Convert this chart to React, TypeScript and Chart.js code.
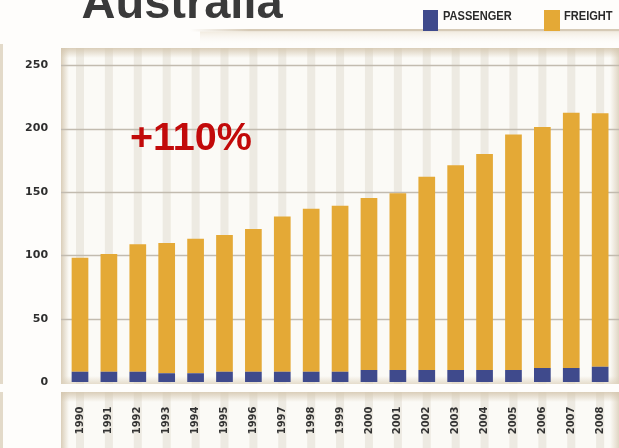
import React, { useEffect, useRef } from 'react';
import { Chart, registerables } from 'chart.js';

Chart.register(...registerables);

// ---- data ----
const years = ['1990', '1991', '1992', '1993', '1994', '1995', '1996', '1997', '1998', '1999', '2000', '2001', '2002', '2003', '2004', '2005', '2006', '2007', '2008'];
const passenger = [8, 8, 8, 7, 7, 8, 8, 8, 8, 8, 9.5, 9.5, 9.5, 9.5, 9.5, 9.5, 11, 11, 12];
const freight = [90, 93, 100.8, 102.6, 106, 108, 112.7, 122.7, 128.7, 131, 135.8, 139.5, 152.5, 161.5, 170.5, 185.8, 190.3, 201.4, 200];
const yTicks = [0, 50, 100, 150, 200, 250];
const titleText = 'Australia';
const annotationText = '+110%';
const legendLabels = ['PASSENGER', 'FREIGHT'];

const passengerColor = '#3f4a8c';
const freightColor = '#e4a936';
const seriesColors = [passengerColor, freightColor];

const W = 619;
const H = 448;

const panelPlugin = {
  id: 'panels',
  beforeDraw(chart: any) {
    const { ctx } = chart;
    const x = chart.scales.x;
    const y = chart.scales.y;
    ctx.save();
    // page background
    ctx.fillStyle = '#fefdfb';
    ctx.fillRect(0, 0, W, H);

    // header rule
    let g = ctx.createLinearGradient(190, 0, 250, 0);
    g.addColorStop(0, 'rgba(214,202,182,0)');
    g.addColorStop(1, 'rgba(214,202,182,1)');
    ctx.fillStyle = g;
    ctx.fillRect(190, 29, W - 190, 2.5);
    g = ctx.createLinearGradient(0, 31.5, 0, 45);
    g.addColorStop(0, 'rgba(240,233,220,0.9)');
    g.addColorStop(1, 'rgba(254,253,251,0)');
    ctx.fillStyle = g;
    ctx.fillRect(200, 31.5, W - 200, 14);

    // left edge strip of neighbouring panel
    ctx.fillStyle = '#e3dac9';
    ctx.fillRect(0, 44, 3, 340);
    ctx.fillRect(0, 392, 3, H - 392);

    const drawPanel = (px: number, py: number, pw: number, ph: number, bottomShade: boolean) => {
      ctx.fillStyle = '#fbfaf6';
      ctx.fillRect(px, py, pw, ph);
      // stripes
      ctx.fillStyle = 'rgba(226,221,210,0.55)';
      for (let i = 0; i < years.length; i++) {
        const cx = x.getPixelForValue(i);
        ctx.fillRect(cx - 4, py, 8, ph);
      }
      // top shade
      let gg = ctx.createLinearGradient(0, py, 0, py + 10);
      gg.addColorStop(0, 'rgba(212,198,174,0.85)');
      gg.addColorStop(1, 'rgba(212,198,174,0)');
      ctx.fillStyle = gg;
      ctx.fillRect(px, py, pw, 10);
      // left shade
      gg = ctx.createLinearGradient(px, 0, px + 8, 0);
      gg.addColorStop(0, 'rgba(212,198,174,0.85)');
      gg.addColorStop(1, 'rgba(212,198,174,0)');
      ctx.fillStyle = gg;
      ctx.fillRect(px, py, 8, ph);
      // right shade
      gg = ctx.createLinearGradient(px + pw - 9, 0, px + pw, 0);
      gg.addColorStop(0, 'rgba(212,198,174,0)');
      gg.addColorStop(1, 'rgba(212,198,174,0.7)');
      ctx.fillStyle = gg;
      ctx.fillRect(px + pw - 9, py, 9, ph);
      if (bottomShade) {
        gg = ctx.createLinearGradient(0, py + ph - 8, 0, py + ph);
        gg.addColorStop(0, 'rgba(220,208,186,0)');
        gg.addColorStop(1, 'rgba(220,208,186,0.7)');
        ctx.fillStyle = gg;
        ctx.fillRect(px, py + ph - 8, pw, 8);
      }
    };

    // plot panel
    drawPanel(61, 48, W - 61, 336, true);
    // label panel
    drawPanel(61, 392, W - 61, H - 392, false);

    // horizontal grid lines through the library's y scale
    ctx.strokeStyle = '#c2bbaf';
    ctx.lineWidth = 1.6;
    for (const v of yTicks) {
      if (v === 0) continue;
      const py = Math.round(y.getPixelForValue(v)) + 0.5;
      ctx.beginPath();
      ctx.moveTo(61, py);
      ctx.lineTo(W, py);
      ctx.stroke();
    }
    ctx.restore();
  },
};

export default function App() {
  const ref = useRef<HTMLCanvasElement | null>(null);

  useEffect(() => {
    if (!ref.current) return;
    const chart = new Chart(ref.current, {
      type: 'bar',
      data: {
        labels: years,
        datasets: [
          { label: legendLabels[0], data: passenger, backgroundColor: passengerColor, stack: 's', barPercentage: 0.578, categoryPercentage: 1 },
          { label: legendLabels[1], data: freight, backgroundColor: freightColor, stack: 's', barPercentage: 0.578, categoryPercentage: 1 },
        ],
      },
      options: {
        responsive: false,
        animation: false,
        devicePixelRatio: 1,
        layout: { padding: { left: 0, right: 4.4, top: 50, bottom: 0 } },
        plugins: {
          legend: { display: false },
          title: { display: false },
          tooltip: { enabled: false },
        },
        scales: {
          x: {
            stacked: true,
            grid: { display: false, drawTicks: false },
            border: { display: false },
            afterFit: (s: any) => {
              s.height = 66;
              s.paddingLeft = 0;
              s.paddingRight = 0;
              s.paddingTop = 0;
              s.paddingBottom = 0;
            },
            ticks: {
              autoSkip: false,
              minRotation: 90,
              maxRotation: 90,
              padding: 24.5,
              color: '#333333',
              font: { family: 'DejaVu Sans', weight: 'bold', size: 10 },
            },
          },
          y: {
            stacked: true,
            min: 0,
            max: 262,
            grid: { display: false, drawTicks: false },
            border: { display: false },
            afterFit: (s: any) => {
              s.width = 65.55;
              s.paddingLeft = 0;
              s.paddingRight = 0;
              s.paddingTop = 0;
              s.paddingBottom = 0;
            },
            afterBuildTicks: (s: any) => { s.ticks = yTicks.map((v) => ({ value: v })); },
            ticks: {
              padding: 17.5,
              color: '#2e2e2e',
              font: { family: 'DejaVu Sans', weight: 'bold', size: 11 },
            },
          },
        },
      },
      plugins: [panelPlugin],
    } as any);
    return () => chart.destroy();
  }, []);

  const legendBoxes = [422.7, 544];
  const legendTexts = [443, 564];

  return (
    <div style={{ position: 'fixed', left: 0, top: 0, width: W, height: H, overflow: 'hidden', background: '#fefdfb' }}>
      <canvas ref={ref} width={W} height={H} style={{ position: 'absolute', left: 0, top: 0, width: W, height: H }} />
      <div
        style={{
          position: 'absolute', left: 81.5, top: -22.5, fontFamily: '"Liberation Sans", Arial, sans-serif',
          fontWeight: 'bold', fontSize: 47, lineHeight: '47px', color: '#3a3a3a', whiteSpace: 'nowrap',
        }}
      >
        {titleText}
      </div>
      {legendLabels.map((lab, i) => (
        <React.Fragment key={lab}>
          <div style={{ position: 'absolute', left: legendBoxes[i], top: 10, width: 15.6, height: 21, background: seriesColors[i] }} />
          <div
            style={{
              position: 'absolute', left: legendTexts[i], top: 9.2, fontFamily: '"Liberation Sans", Arial, sans-serif',
              fontSize: 13.5, lineHeight: '13.5px', color: '#2a2a2a', whiteSpace: 'nowrap', fontWeight: 'bold',
              transform: 'scaleX(0.82)', transformOrigin: 'left top',
            }}
          >
            {lab}
          </div>
        </React.Fragment>
      ))}
      <div
        style={{
          position: 'absolute', left: 130, top: 116.6, fontFamily: '"Liberation Sans", Arial, sans-serif',
          fontWeight: 'bold', fontSize: 39.5, lineHeight: '39.5px', color: '#c20a0a', whiteSpace: 'nowrap',
        }}
      >
        {annotationText}
      </div>
    </div>
  );
}
